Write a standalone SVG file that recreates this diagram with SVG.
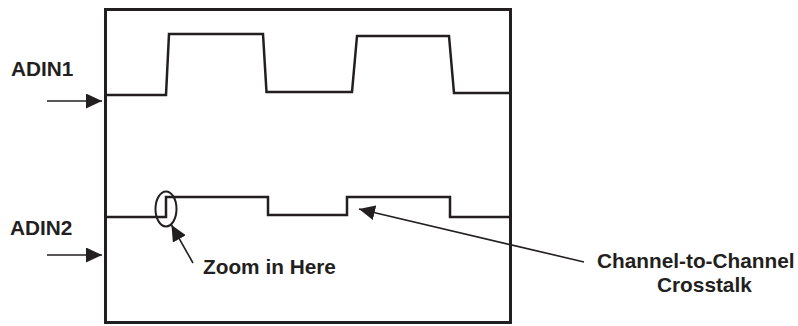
<svg xmlns="http://www.w3.org/2000/svg" width="798" height="326" viewBox="0 0 798 326">
  <style>
    .lbl { font-family: "Liberation Sans", Arial, sans-serif; font-weight: bold; font-size: 20.8px; fill: #231f20; }
    .wave { fill: none; stroke: #231f20; stroke-width: 2.5; stroke-linejoin: miter; }
    .conn { fill: none; stroke: #231f20; stroke-width: 1.6; }
  </style>
  <defs>
    <marker id="ah" markerUnits="userSpaceOnUse" markerWidth="18" markerHeight="16" refX="16" refY="7.5" orient="auto">
      <path d="M0,0 L16,7.5 L0,15 Z" fill="#231f20"/>
    </marker>
  </defs>
  <rect width="798" height="326" fill="#ffffff"/>

  <g id="scope">
    <rect x="105.5" y="9.5" width="405" height="313" fill="none" stroke="#231f20" stroke-width="3"/>
  </g>

  <g id="adin1-wave">
    <path class="wave" d="M105,95 L166,95 L169,34 L263,34 L266.5,92 L352,92 L357,36 L449,36 L454,93 L511,93"/>
  </g>

  <g id="adin2-wave">
    <path class="wave" d="M105,217 L166,217 L166,197 L268,197 L268,215 L347,215 L347,197 L450,197 L450,217 L511,217"/>
    <ellipse cx="166" cy="209" rx="10.5" ry="17.5" fill="none" stroke="#231f20" stroke-width="2"/>
  </g>

  <g id="label-adin1">
    <text class="lbl" x="11" y="76">ADIN1</text>
  </g>
  <g id="label-adin2">
    <text class="lbl" x="10" y="235">ADIN2</text>
  </g>
  <g id="label-zoom">
    <text class="lbl" x="203" y="274">Zoom in Here</text>
  </g>
  <g id="label-crosstalk">
    <text class="lbl" x="597" y="268">Channel-to-Channel</text>
    <text class="lbl" x="657" y="292">Crosstalk</text>
  </g>

  <g id="connectors">
    <line class="conn" x1="47" y1="101" x2="102" y2="101" marker-end="url(#ah)"/>
    <line class="conn" x1="47" y1="255" x2="102" y2="255" marker-end="url(#ah)"/>
    <line class="conn" x1="193" y1="263" x2="171.5" y2="225" marker-end="url(#ah)"/>
    <line class="conn" x1="584" y1="262" x2="359" y2="209" marker-end="url(#ah)"/>
  </g>
</svg>
